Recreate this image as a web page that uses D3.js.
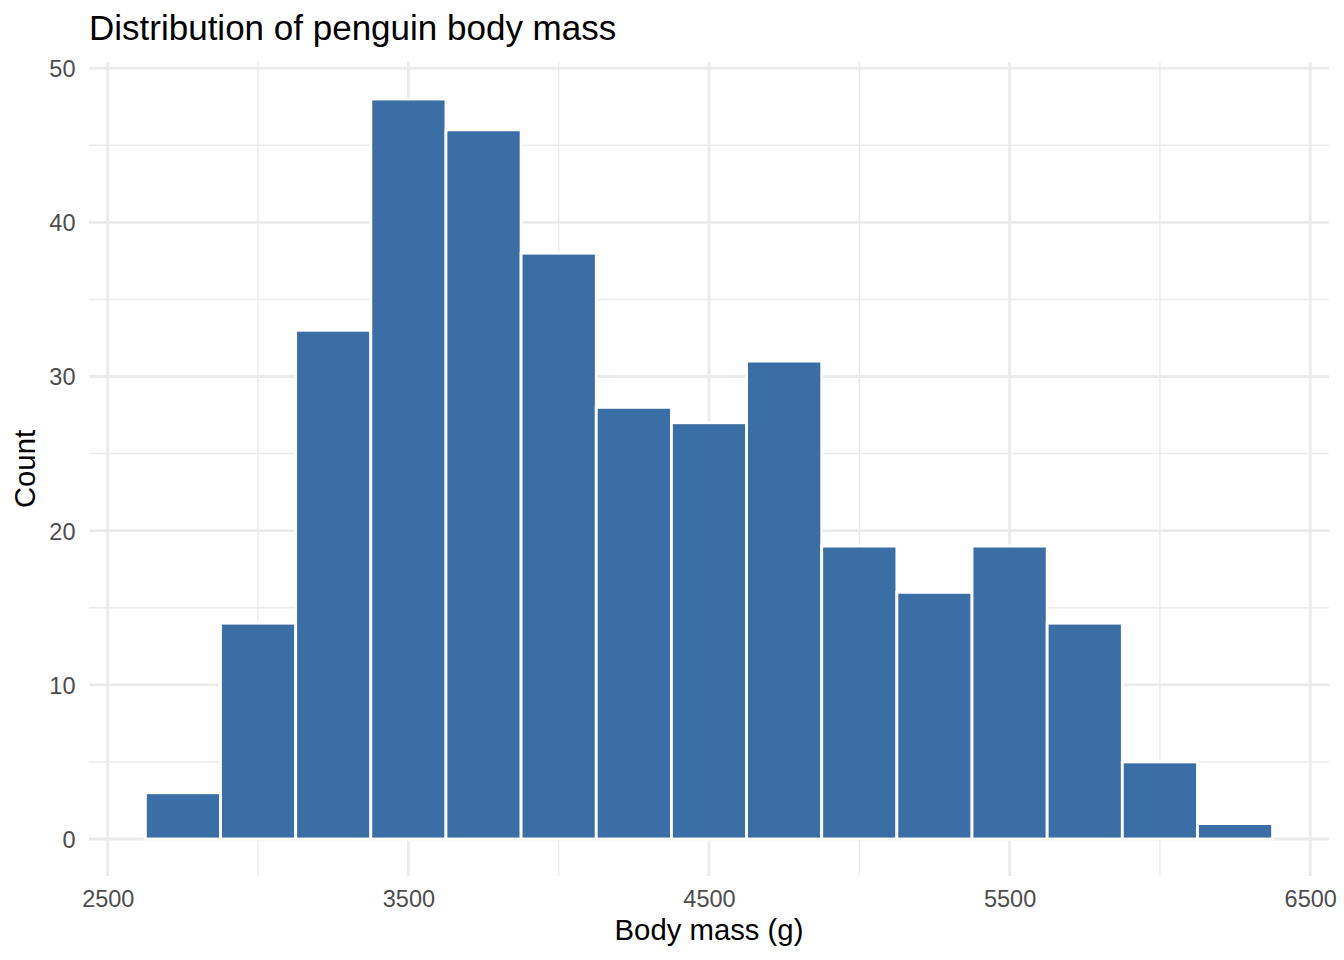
<!DOCTYPE html>
<html>
<head>
<meta charset="utf-8">
<script src="https://cdn.jsdelivr.net/npm/d3@7"></script>
<style>
  body { margin: 0; background: #fff; }
  svg { display: block; font-family: "Liberation Sans", Arial, Helvetica, sans-serif; }
</style>
</head>
<body>
<svg id="hist" width="1344" height="960"></svg>
<script>
// bins are 250 g wide, given by centre
const binCenters = [2750, 3000, 3250, 3500, 3750, 4000, 4250, 4500, 4750, 5000, 5250, 5500, 5750, 6000, 6250];
const counts = [3, 14, 33, 48, 46, 38, 28, 27, 31, 19, 16, 19, 14, 5, 1];
const binWidth = 250;

const xMajor = [2500, 3500, 4500, 5500, 6500];
const xMinor = [3000, 4000, 5000, 6000];
const yMajor = [0, 10, 20, 30, 40, 50];
const yMinor = [5, 15, 25, 35, 45];

const svg = d3.select("#hist");
const panel = { left: 89, right: 1329, top: 62, bottom: 876 };

// ggplot-style 5% expansion on both sides
const xMin = binCenters[0] - binWidth / 2;
const xMax = binCenters[binCenters.length - 1] + binWidth / 2;
const xPad = (xMax - xMin) * 0.05;
const yPad = d3.max(counts) * 0.05;

const x = d3.scaleLinear()
  .domain([xMin - xPad, xMax + xPad])
  .range([panel.left, panel.right]);

const y = d3.scaleLinear()
  .domain([-yPad, 50 + 0.4]) // top of range sits a little above 50
  .range([panel.bottom, panel.top]);

const grid = svg.append("g").attr("stroke", "#EBEBEB");

//minor grid first, thinner
grid.selectAll("line.xminor").data(xMinor).join("line")
  .attr("x1", d => x(d)).attr("x2", d => x(d))
  .attr("y1", panel.top).attr("y2", panel.bottom)
  .attr("stroke-width", 1.42);
grid.selectAll("line.yminor").data(yMinor).join("line")
  .attr("class", "yminor")
  .attr("y1", d => y(d)).attr("y2", d => y(d))
  .attr("x1", panel.left).attr("x2", panel.right)
  .attr("stroke-width", 1.42);

grid.selectAll("line.xmajor").data(xMajor).join("line")
  .attr("class", "xmajor")
  .attr("x1", d => x(d)).attr("x2", d => x(d))
  .attr("y1", panel.top).attr("y2", panel.bottom)
  .attr("stroke-width", 2.85);
grid.selectAll("line.ymajor").data(yMajor).join("line")
  .attr("class", "ymajor")
  .attr("y1", d => y(d)).attr("y2", d => y(d))
  .attr("x1", panel.left).attr("x2", panel.right)
  .attr("stroke-width", 2.85);

// bars
svg.append("g")
  .selectAll("rect")
  .data(binCenters.map((c, i) => ({ c, n: counts[i] })))
  .join("rect")
  .attr("x", d => x(d.c - binWidth / 2))
  .attr("width", d => x(d.c + binWidth / 2) - x(d.c - binWidth / 2))
  .attr("y", d => y(d.n))
  .attr("height", d => y(0) - y(d.n))
  .attr("fill", "#3A6EA5")
  .attr("stroke", "#fff")
  .attr("stroke-width", 2.85);

// axes: labels only, no lines
const xAxis = svg.append("g")
  .attr("transform", `translate(0,${panel.bottom})`)
  .call(d3.axisBottom(x).tickValues(xMajor).tickSize(0).tickPadding(0).tickFormat(d3.format("d")));
xAxis.select(".domain").remove();
xAxis.selectAll("text")
  .attr("y", 31).attr("dy", null)
  .attr("fill", "#4D4D4D")
  .style("font-size", "23.5px")
  .style("font-family", "'Liberation Sans', Arial, sans-serif");

const yAxis = svg.append("g")
  .attr("transform", `translate(${panel.left},0)`)
  .call(d3.axisLeft(y).tickValues(yMajor).tickSize(0).tickPadding(0));
yAxis.select(".domain").remove();
yAxis.selectAll("text")
  .attr("x", -13.5).attr("dy", "0.36em")
  .attr("fill", "#4D4D4D")
  .style("font-size", "23.5px")
  .style("font-family", "'Liberation Sans', Arial, sans-serif");

//titles
svg.append("text")
  .attr("x", panel.left).attr("y", 40)
  .attr("fill", "#000")
  .style("font-size", "35px")
  .text("Distribution of penguin body mass");

svg.append("text")
  .attr("x", (panel.left + panel.right) / 2).attr("y", 940)
  .attr("text-anchor", "middle")
  .attr("fill", "#000")
  .style("font-size", "29.3px")
  .text("Body mass (g)");

svg.append("text")
  .attr("transform", `translate(35,${(panel.top + panel.bottom) / 2}) rotate(-90)`)
  .attr("text-anchor", "middle")
  .attr("fill", "#000")
  .style("font-size", "29.3px")
  .text("Count");
</script>
</body>
</html>
